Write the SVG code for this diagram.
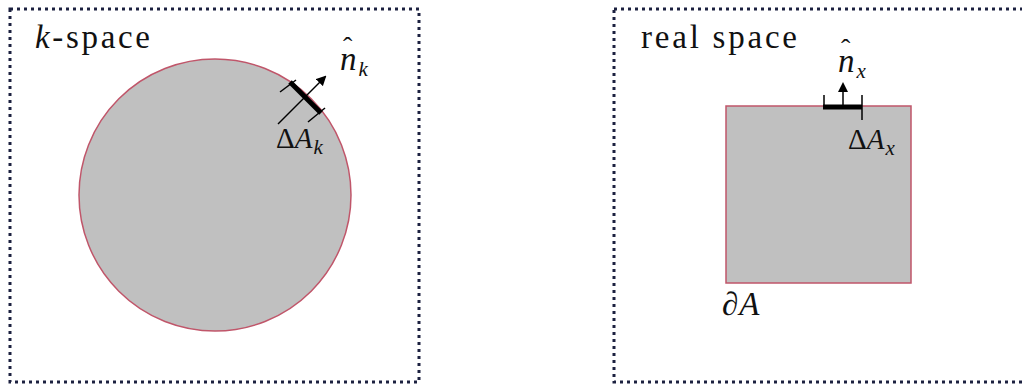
<svg xmlns="http://www.w3.org/2000/svg" width="1022" height="385" viewBox="0 0 1022 385">
<style>
.frame{fill:none;stroke:#1c2140;stroke-width:3;stroke-dasharray:3 4}
.shape{fill:#c0c0c0;stroke:#c0566a;stroke-width:1.5}
.thin{stroke:#000;stroke-width:1.5;fill:none}
.thick{stroke:#000;stroke-width:5;fill:none}
</style>
<defs>
<marker id="ah" markerWidth="10" markerHeight="10" refX="8" refY="5" orient="auto" markerUnits="userSpaceOnUse">
<path d="M0,0 L10,5 L0,10 z" fill="#000"/>
</marker>
</defs>
<g id="kspace">
<rect class="frame" x="10" y="9" width="409" height="373"/>
<text x="35" y="48" font-size="33" fill="#111" textLength="115" style="font-family:'Liberation Serif'"><tspan font-style="italic">k</tspan>-space</text>
<circle class="shape" cx="215" cy="195" r="136"/>
</g>
<g id="realspace">
<rect class="frame" x="614" y="9" width="420" height="373"/>
<text x="641" y="48" font-size="33" fill="#111" textLength="156" style="font-family:'Liberation Serif'">real space</text>
<rect class="shape" x="726" y="106" width="185" height="177"/>
<text x="722" y="315" font-size="33" font-style="italic" fill="#111" style="font-family:'Liberation Serif'">∂<tspan dx="1">A</tspan></text>
</g>
<g id="connectors">
<line class="thick" x1="290" y1="82" x2="321" y2="113"/>
<line class="thin" x1="280" y1="92" x2="296" y2="80"/>
<line class="thin" x1="308" y1="122" x2="325" y2="108"/>
<line class="thin" x1="278" y1="124" x2="325" y2="77" marker-end="url(#ah)"/>
<line class="thick" x1="823" y1="107" x2="862" y2="107"/>
<line class="thin" x1="824" y1="95" x2="824" y2="109"/>
<line class="thin" x1="862" y1="95" x2="862" y2="120"/>
<line class="thin" x1="843" y1="107" x2="843" y2="84" marker-end="url(#ah)"/>
</g>
<g id="labels">
<text x="340" y="70" font-size="33" font-style="italic" fill="#111" style="font-family:'Liberation Serif'">n<tspan font-size="21" dx="2" dy="6">k</tspan></text>
<text x="343" y="56" font-size="28" fill="#111" style="font-family:'Liberation Serif'">ˆ</text>
<text x="276" y="148" font-size="29" fill="#111" style="font-family:'Liberation Serif'">Δ<tspan font-style="italic">A</tspan><tspan font-style="italic" font-size="21" dx="1" dy="6">k</tspan></text>
<text x="838" y="72" font-size="33" font-style="italic" fill="#111" style="font-family:'Liberation Serif'">n<tspan font-size="21" dx="2" dy="6">x</tspan></text>
<text x="841" y="58" font-size="28" fill="#111" style="font-family:'Liberation Serif'">ˆ</text>
<text x="848" y="149" font-size="29" fill="#111" style="font-family:'Liberation Serif'">Δ<tspan font-style="italic">A</tspan><tspan font-style="italic" font-size="21" dx="1" dy="6">x</tspan></text>
</g>
</svg>
